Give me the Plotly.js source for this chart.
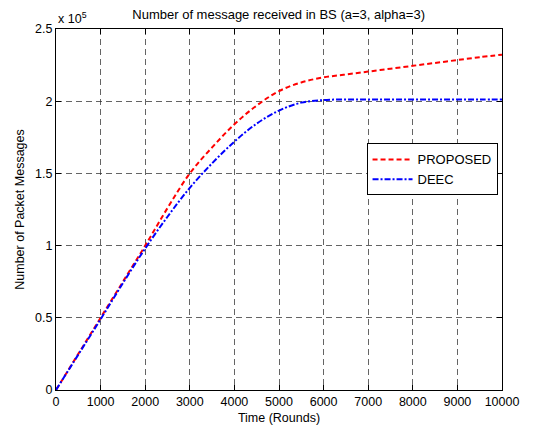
<!DOCTYPE html>
<html>
<head>
<meta charset="utf-8">
<script src="https://cdn.plot.ly/plotly-3.0.1.min.js"></script>
<style>html,body{margin:0;padding:0;background:#fff;}</style>
</head>
<body>
<div id="chart" style="width:540px;height:429px;"></div>
<script>
const rounds = [0,500,1000,1500,2000,2500,3000,3500,4000,4500,5000,5500,6000,6500,7000,7500,8000,8500,9000,9500,10000];
const proposed = [0,25000,50000,75000,100000,126000,150000,168000,184000,197000,207000,213000,216500,218500,220500,222500,224500,226500,228500,230500,232200];
const deec = [0,24500,49000,74000,98000,120000,140000,157000,172000,184500,193500,199000,200800,201200,201200,201200,201200,201200,201200,201200,201200];
const xTicks = [0,1000,2000,3000,4000,5000,6000,7000,8000,9000,10000];
const yTickVals = [0,50000,100000,150000,200000,250000];
const yTickText = ['0','0.5','1','1.5','2','2.5'];

const font = {family: 'Liberation Sans, Arial, sans-serif', size: 12.5, color: '#000'};

const traces = [
  {x: rounds, y: proposed, name: 'PROPOSED', mode: 'lines', line: {color: '#ff0000', width: 2, dash: '5px,3px', shape: 'spline'}},
  {x: rounds, y: deec, name: 'DEEC', mode: 'lines', line: {color: '#0000ff', width: 2, dash: '6px,2px,2px,2px', shape: 'spline'}}
];

const axisCommon = {
  showline: true, linecolor: '#000', linewidth: 1, mirror: 'ticks',
  ticks: 'inside', ticklen: 5, tickcolor: '#000', tickwidth: 1,
  showgrid: true, gridcolor: '#222', gridwidth: 0.7, griddash: '6px,4px',
  zeroline: false, tickfont: font
};

const layout = {
  width: 540, height: 429,
  margin: {l: 56, r: 38, t: 29, b: 39},
  paper_bgcolor: '#fff', plot_bgcolor: '#fff',
  font: font,
  title: {text: 'Number of message received in BS (a=3, alpha=3)', font: {family: font.family, size: 13, color: '#000'}, x: 0.516, xanchor: 'center', y: 0.967, yanchor: 'middle'},
  xaxis: Object.assign({}, axisCommon, {range: [0, 10000], tickvals: xTicks, ticktext: xTicks.map(String),
    title: {text: 'Time (Rounds)', font: font, standoff: 5}}),
  yaxis: Object.assign({}, axisCommon, {range: [0, 250000], tickvals: yTickVals, ticktext: yTickText,
    title: {text: 'Number of Packet Messages', font: font, standoff: 7}}),
  legend: {x: 0.99, xanchor: 'right', y: 0.683, yanchor: 'top', bgcolor: '#fff', bordercolor: '#000', borderwidth: 1,
    font: {family: font.family, size: 13, color: '#000'}, tracegroupgap: 0, itemwidth: 40},
  showlegend: true,
  annotations: [{xref: 'paper', yref: 'paper', x: 0, y: 1, xanchor: 'left', yanchor: 'bottom', yshift: 1,
    text: 'x 10<sup>5</sup>', showarrow: false, font: font}]
};

Plotly.newPlot('chart', traces, layout, {displayModeBar: false, staticPlot: true});
</script>
</body>
</html>
